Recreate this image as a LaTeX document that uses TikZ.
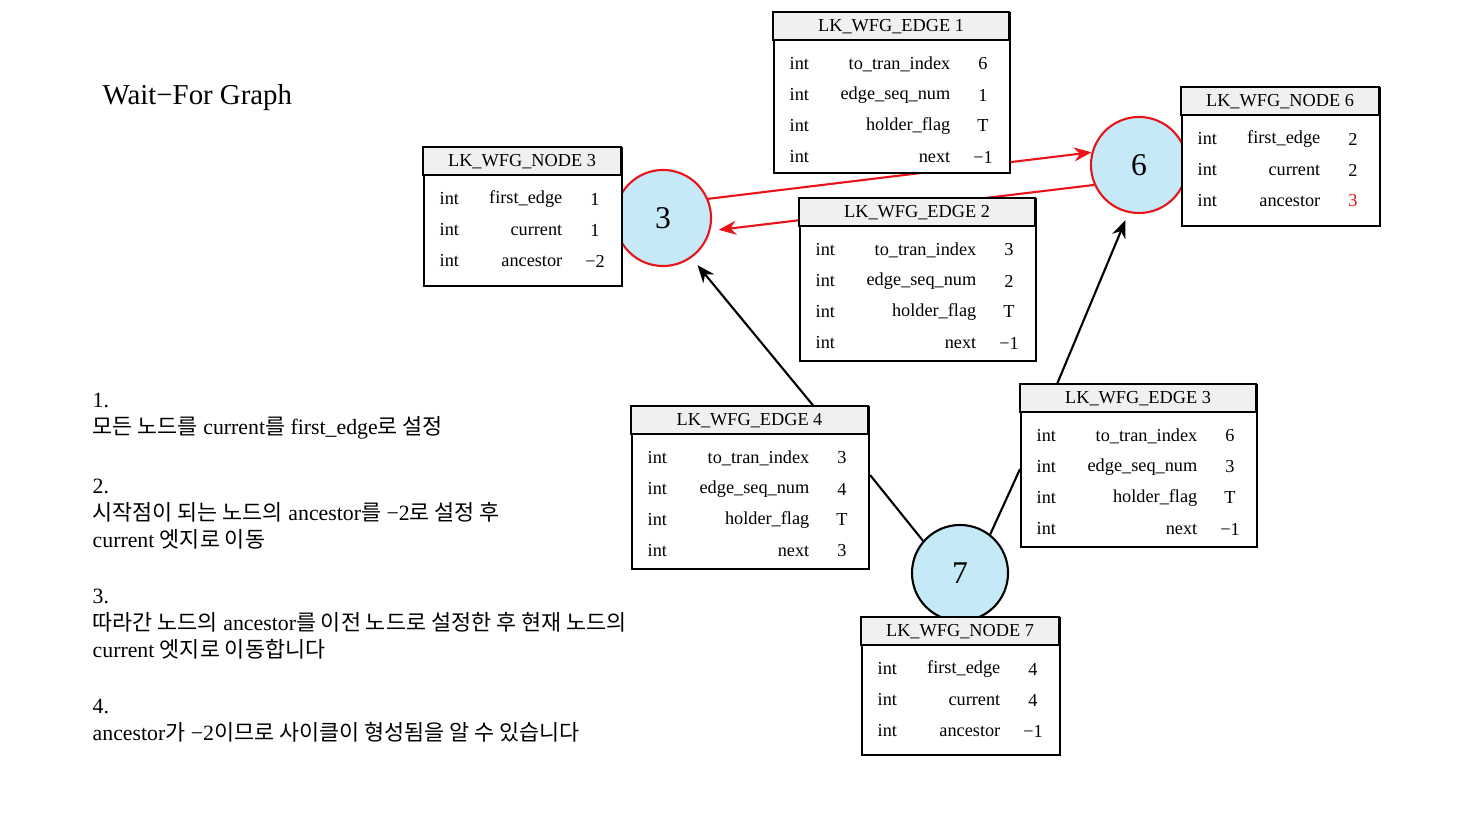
\documentclass[tikz,border=0pt]{standalone}
\usepackage{fontspec}
\setmainfont{Liberation Serif}
\newfontfamily\kr{Noto Sans CJK KR}
\usetikzlibrary{calc,arrows.meta}
\definecolor{nodeblue}{HTML}{C6E9F8}
\definecolor{titlegray}{HTML}{F0F0F0}
\definecolor{wfgred}{HTML}{E8141A}

% table: name, x, y, width, height, title, rows
\newcommand\wfgtable[7]{%
  \node[tbl, minimum width={#4*0.01cm}, minimum height={#5*0.01cm}, anchor=north west] (#1) at (#2,#3) {};
  \begin{scope}[shift={(#2,#3)}]
    \draw[line width=0.6pt, fill=titlegray] (0,0) rectangle (#4,28);
    \node[txt] at (#4/2,15) {#6};
    \foreach \f/\v [count=\i] in {#7} {
      \node[txt, anchor=west] at (16,21+31*\i) {int};
      \node[txt, anchor=east] at (#4-58,21+31*\i) {\f};
      \node[txt] at (#4-26,21+31*\i) {\v};
    }
  \end{scope}
}

\begin{document}
\begin{tikzpicture}[x=0.01cm, y=-0.01cm,
    tbl/.style={draw, line width=0.6pt, fill=white, inner sep=0pt},
    txt/.style={inner sep=0pt, font=\fontsize{5.2}{6}\selectfont},
    wfg/.style={circle, draw, line width=0.6pt, fill=nodeblue, minimum size=0.96cm, inner sep=0pt, font=\fontsize{9}{10}\selectfont},
    steptext/.style={anchor=west, align=left, inner sep=0pt, font=\fontsize{6.2}{7.6}\selectfont},
    redarrow/.style={wfgred, line width=0.6pt, -{Stealth[length=5pt,width=4pt]}},
    blkarrow/.style={line width=0.6pt, -{Stealth[length=5pt,width=4pt]}}]
  \useasboundingbox (0,0) rectangle (1467,825);

  \node[wfg, draw=wfgred] (n3) at (663,218) {3};
  \node[wfg, draw=wfgred] (n6) at (1139,165) {6};
  \node[wfg] (n7) at (960,573) {7};

  % red edges go behind the edge tables
  \draw[redarrow] (n3.23) -- (n6.165);
  \draw[redarrow] (n6.204) -- ($(n3.-14)+(8,0)$);

  \wfgtable{t3}{423}{147}{198}{138}{LK\_WFG\_NODE 3}{first\_edge/1, current/1, ancestor/−2}
  \wfgtable{e1}{773}{12}{236}{160}{LK\_WFG\_EDGE 1}{to\_tran\_index/6, edge\_seq\_num/1, holder\_flag/T, next/−1}
  \wfgtable{t6}{1181}{87}{198}{138}{LK\_WFG\_NODE 6}{first\_edge/2, current/2, ancestor/\textcolor{wfgred}{3}}
  \wfgtable{e2}{799}{198}{236}{162}{LK\_WFG\_EDGE 2}{to\_tran\_index/3, edge\_seq\_num/2, holder\_flag/T, next/−1}
  \wfgtable{e4}{631}{406}{237}{162}{LK\_WFG\_EDGE 4}{to\_tran\_index/3, edge\_seq\_num/4, holder\_flag/T, next/3}
  \wfgtable{e3}{1020}{384}{236}{162}{LK\_WFG\_EDGE 3}{to\_tran\_index/6, edge\_seq\_num/3, holder\_flag/T, next/−1}

  \draw[blkarrow] ($(e4.north)+(63,0)$) -- ($(n3.-53)+(5,8)$);
  \draw[blkarrow] ($(e3.north)+(-82,0)$) -- ($(n6.-106)+(0,8)$);
  \draw[line width=0.6pt] (n7.139) -- ($(e4.east)+(0,-13)$);
  \draw[line width=0.6pt] (n7.52) -- ($(e3.west)+(0,3)$);

  \wfgtable{t7}{861}{617}{198}{137}{LK\_WFG\_NODE 7}{first\_edge/4, current/4, ancestor/−1}

  \node[anchor=west, inner sep=0pt, font=\fontsize{8.2}{10}\selectfont] (title) at (102,98) {Wait−For Graph};
  \node[steptext] (s1) at (92,416) {1.\\{\kr 모든 노드를} current{\kr 를} first\_edge{\kr 로 설정}};
  \node[steptext] (s2) at (92,514) {2.\\{\kr 시작점이 되는 노드의} ancestor{\kr 를} −2{\kr 로 설정 후}\\current {\kr 엣지로 이동}};
  \node[steptext] (s3) at (92,624) {3.\\{\kr 따라간 노드의} ancestor{\kr 를 이전 노드로 설정한 후 현재 노드의}\\current {\kr 엣지로 이동합니다}};
  \node[steptext] (s4) at (92,721) {4.\\ancestor{\kr 가} −2{\kr 이므로 사이클이 형성됨을 알 수 있습니다}};
\end{tikzpicture}
\end{document}
